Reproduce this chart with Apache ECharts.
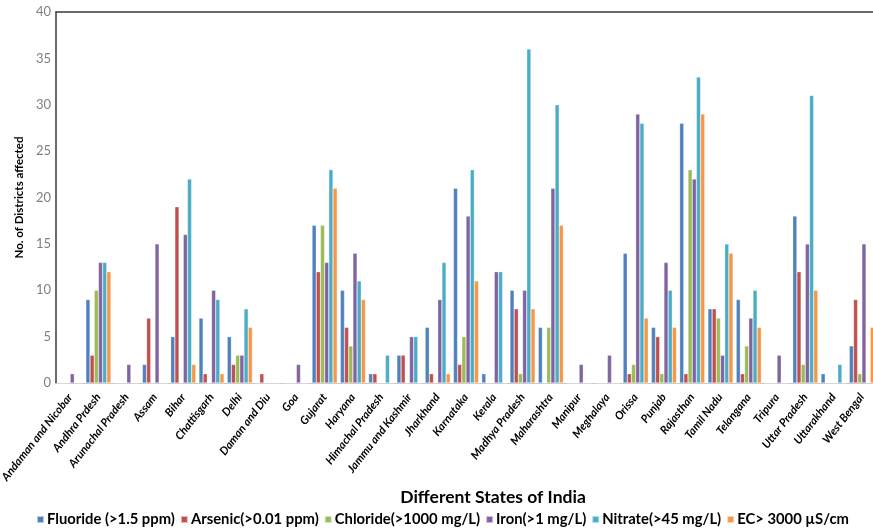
<!DOCTYPE html>
<html>
<head>
<meta charset="utf-8">
<script src="https://cdn.jsdelivr.net/npm/echarts@6/dist/echarts.min.js"></script>
<style>
  html, body { margin: 0; padding: 0; background: #fff; }
  #chart { width: 873px; height: 529px; }
</style>
</head>
<body>
<div id="chart"></div>
<script>
// States on the x axis
const states = [
  'Andaman and Nicobar', 'Andhra Prdesh', 'Arunachal Pradesh', 'Assam', 'Bihar',
  'Chattisgarh', 'Delhi', 'Daman and Diu', 'Goa', 'Gujarat', 'Haryana',
  'Himachal Pradesh', 'Jammu and Kashmir', 'Jharkhand', 'Karnataka', 'Kerala',
  'Madhya Pradesh', 'Maharashtra', 'Manipur', 'Meghalaya', 'Orissa', 'Punjab',
  'Rajasthan', 'Tamil Nadu', 'Telangana', 'Tripura', 'Uttar Pradesh',
  'Uttarakhand', 'West Bengal'
];

// Number of districts affected, per contaminant
const fluoride = [0, 9, 0, 2, 5, 7, 5, 0, 0, 17, 10, 1, 3, 6, 21, 1, 10, 6, 0, 0, 14, 6, 28, 8, 9, 0, 18, 1, 4];
const arsenic  = [0, 3, 0, 7, 19, 1, 2, 1, 0, 12, 6, 1, 3, 1, 2, 0, 8, 0, 0, 0, 1, 5, 1, 8, 1, 0, 12, 0, 9];
const chloride = [0, 10, 0, 0, 0, 0, 3, 0, 0, 17, 4, 0, 0, 0, 5, 0, 1, 6, 0, 0, 2, 1, 23, 7, 4, 0, 2, 0, 1];
const iron     = [1, 13, 2, 15, 16, 10, 3, 0, 2, 13, 14, 0, 5, 9, 18, 12, 10, 21, 2, 3, 29, 13, 22, 3, 7, 3, 15, 0, 15];
const nitrate  = [0, 13, 0, 0, 22, 9, 8, 0, 0, 23, 11, 3, 5, 13, 23, 12, 36, 30, 0, 0, 28, 10, 33, 15, 10, 0, 31, 2, 0];
const ec       = [0, 12, 0, 0, 2, 1, 6, 0, 0, 21, 9, 0, 0, 1, 11, 0, 8, 17, 0, 0, 7, 6, 29, 14, 6, 0, 10, 0, 6];

const seriesNames = [
  'Fluoride (>1.5 ppm)', 'Arsenic(>0.01 ppm)', 'Chloride(>1000 mg/L)',
  'Iron(>1 mg/L)', 'Nitrate(>45 mg/L)', 'EC> 3000 µS/cm'
];
const seriesData = [fluoride, arsenic, chloride, iron, nitrate, ec];
const colors = ['#4F81BD', '#C0504D', '#9BBB59', '#8064A2', '#4BACC6', '#F79646'];

const yTicks = { min: 0, max: 40, interval: 5 };

const FONT = 'Lato, "Liberation Sans", sans-serif';

const chart = echarts.init(document.getElementById('chart'), null, { renderer: 'canvas' });

chart.setOption({
  animation: false,
  color: colors,
  textStyle: { fontFamily: FONT },
  grid: { left: 56, top: 12, width: 820, bottom: 146, containLabel: false, outerBoundsMode: 'none' },
  title: {
    text: 'Different States of India',
    left: 488,
    top: 483,
    textAlign: 'center',
    textStyle: { fontFamily: FONT, fontSize: 17.5, fontWeight: 'bold', color: '#000' }
  },
  legend: {
    data: seriesNames,
    left: 36,
    top: 512,
    padding: 0,
    itemWidth: 7,
    itemHeight: 7,
    itemGap: 5,
    icon: 'rect',
    textStyle: { fontFamily: FONT, fontSize: 14.8, fontWeight: 'bold', color: '#000', padding: [0, 0, 0, -2] }
  },
  xAxis: [
    {
      type: 'category',
      data: states,
      axisLine: { show: true, lineStyle: { color: '#c8c8c8', width: 1 } },
      axisTick: { show: false },
      axisLabel: {
        interval: 0,
        rotate: 52,
        margin: 12,
        fontFamily: FONT,
        fontSize: 11.3,
        fontWeight: 'bold',
        fontStyle: 'italic',
        color: '#000'
      },
      splitLine: { show: false }
    },
    {
      // top frame line of the plot area
      type: 'category',
      data: states,
      position: 'top',
      axisLine: { show: true, lineStyle: { color: '#3a3a3a', width: 1.5 } },
      axisTick: { show: false },
      axisLabel: { show: false },
      splitLine: { show: false }
    }
  ],
  yAxis: {
    type: 'value',
    min: yTicks.min,
    max: yTicks.max,
    interval: yTicks.interval,
    name: 'No. of Districts affected',
    nameLocation: 'middle',
    nameGap: 30,
    nameTextStyle: { fontFamily: FONT, fontSize: 11.5, fontWeight: 'bold', color: '#000' },
    axisLine: { show: true, lineStyle: { color: '#3a3a3a', width: 1.5 } },
    axisTick: { show: false },
    axisLabel: { fontFamily: FONT, fontSize: 13, color: '#808080', margin: 5 },
    splitLine: { show: false }
  },
  series: seriesNames.map((name, i) => ({
    name: name,
    type: 'bar',
    xAxisIndex: 0,
    data: seriesData[i],
    barGap: '0%',
    barCategoryGap: '11%',
    itemStyle: { color: colors[i], borderColor: 'rgba(255,255,255,0.6)', borderWidth: 0.5 }
  }))
});
</script>
</body>
</html>
